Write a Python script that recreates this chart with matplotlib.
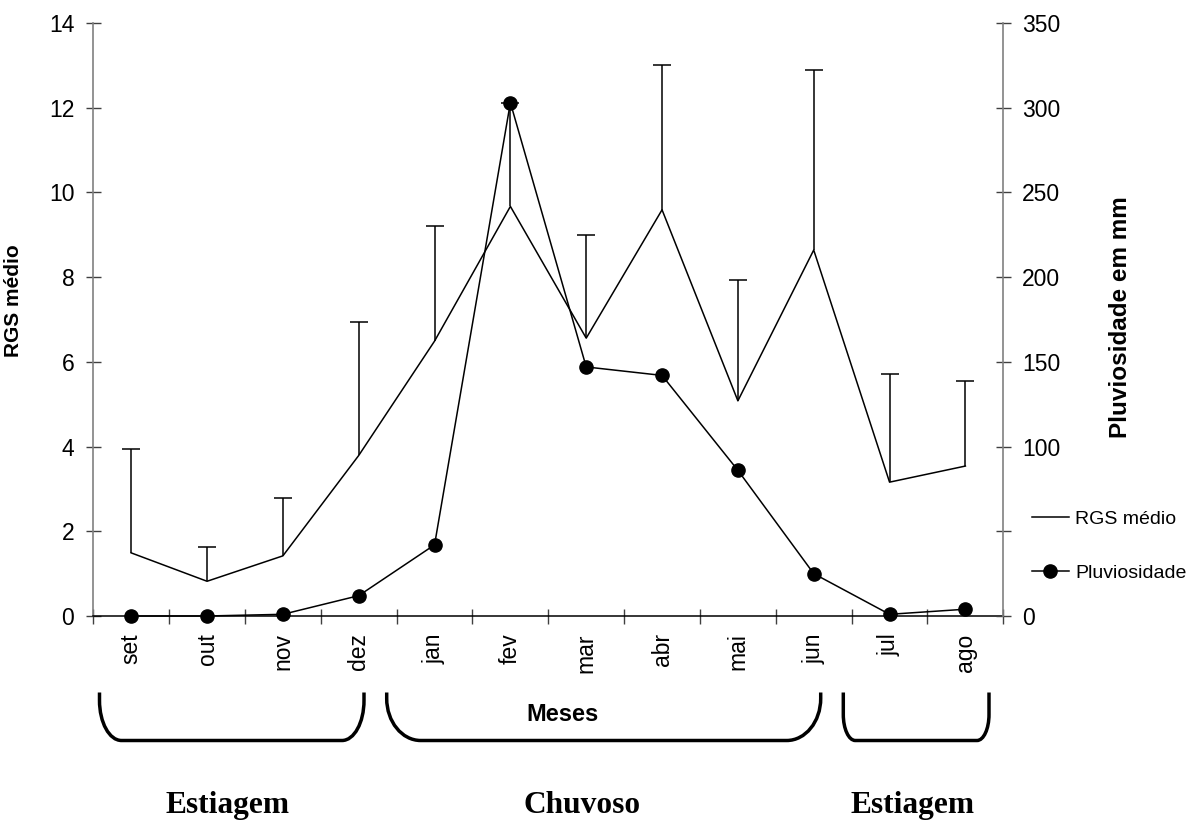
import numpy as np
import matplotlib
matplotlib.use("Agg")
import matplotlib.pyplot as plt
from matplotlib.path import Path
from matplotlib.patches import PathPatch

# ---- data ----
months = ["set", "out", "nov", "dez", "jan", "fev", "mar", "abr", "mai", "jun", "jul", "ago"]
rgs_mean = [1.49, 0.82, 1.42, 3.79, 6.49, 9.67, 6.56, 9.59, 5.08, 8.64, 3.16, 3.54]
rgs_sd = [2.45, 0.81, 1.36, 3.15, 2.72, 2.45, 2.44, 3.41, 2.85, 4.24, 2.55, 2.01]
pluvio = [0, 0, 1, 12, 42, 303, 147, 142, 86, 25, 1, 4]
left_ticks = [0, 2, 4, 6, 8, 10, 12, 14]
right_ticks = [0, 50, 100, 150, 200, 250, 300, 350]
season_labels = ["Estiagem", "Chuvoso", "Estiagem"]

plt.rcParams['font.family'] = ['Liberation Sans', 'DejaVu Sans']

W, H = 1190, 821
fig = plt.figure(figsize=(W / 100, H / 100), dpi=100)
L, R, T, B = 93.3, 1003.3, 23, 616
ax = fig.add_axes([L / W, 1 - B / H, (R - L) / W, (B - T) / H])
ax2 = ax.twinx()

x = np.arange(len(months))
lw = 1.1
cont = ax.errorbar(x, rgs_mean, yerr=[np.zeros(len(x)), rgs_sd], color='black', lw=lw,
                   elinewidth=lw, capsize=6.5, capthick=lw, label='RGS médio', clip_on=False)
# only the upper caps are drawn
cont[1][0].set_visible(False)
ln2, = ax2.plot(x, pluvio, color='black', lw=lw, marker='o', markersize=9.5,
                label='Pluviosidade', clip_on=False, zorder=5)

ax.set_xlim(-0.5, len(months) - 0.5)
ax.set_ylim(0, 14)
ax2.set_ylim(0, 350)
ax.set_yticks(left_ticks)
ax2.set_yticks(right_ticks)

# spines
for s in ['top', 'right']:
    ax.spines[s].set_visible(False)
for s in ['top', 'left', 'bottom']:
    ax2.spines[s].set_visible(False)
ax.spines['left'].set_color('#808080')
ax2.spines['right'].set_color('#808080')
ax.spines['bottom'].set_color('black')
ax.spines['left'].set_linewidth(1.2)
ax2.spines['right'].set_linewidth(1.2)
ax.spines['bottom'].set_linewidth(1.1)

fs_tick = 16.5
ax.tick_params(axis='y', direction='inout', length=10.8, width=1, color='#404040',
               labelsize=fs_tick, pad=8.3)
ax2.tick_params(axis='y', direction='inout', length=10.8, width=1, color='#404040',
                labelsize=fs_tick, pad=8.3)

# x ticks: marks at boundaries, labels at centres
ax.set_xticks(np.arange(-0.5, len(months)), labels=[''] * (len(months) + 1))
ax.set_xticks(x, labels=months, minor=True)
ax.tick_params(axis='x', which='major', direction='inout', length=10.8, width=1, color='#404040')
ax.tick_params(axis='x', which='minor', length=0, labelsize=fs_tick, pad=12.5, labelrotation=90)

# axis labels
ax.set_ylabel('RGS médio', fontsize=15, fontweight='bold')
ax.yaxis.set_label_coords((23.5 - L) / (R - L), (B - 301) / (B - T))
ax2.set_ylabel('Pluviosidade em mm', fontsize=17.5, fontweight='bold', rotation=90)
ax2.yaxis.set_label_coords((1109 - L) / (R - L), (B - 317) / (B - T))
ax.set_xlabel('Meses', fontsize=17, fontweight='bold')
ax.xaxis.label.set_va('center')
ax.xaxis.set_label_coords((562.5 - L) / (R - L), (B - 714) / (B - T))

# legend (white box, as in the original, hides the label of the 50 tick)
leg = ax2.legend([cont[0], ln2], ['RGS médio', 'Pluviosidade'], loc='center left',
                 bbox_to_anchor=(1018 / W, 1 - 546 / H), bbox_transform=fig.transFigure,
                 frameon=True, facecolor='white', edgecolor='none', framealpha=1,
                 fancybox=False, fontsize=14, handlelength=1.9, handletextpad=0.35,
                 labelspacing=1.85, borderpad=0.7, borderaxespad=0)
leg.set_zorder(10)

# braces (overlay in pixel coordinates)
ov = fig.add_axes([0, 0, 1, 1], zorder=-1)
ov.set_xlim(0, W)
ov.set_ylim(H, 0)
ov.axis('off')

def brace(x0, x1, top, bot, rx, ry):
    k = 0.5523
    verts = [(x0, top), (x0, bot - ry),
             (x0, bot - ry + k * ry), (x0 + rx - k * rx, bot), (x0 + rx, bot),
             (x1 - rx, bot),
             (x1 - rx + k * rx, bot), (x1, bot - ry + k * ry), (x1, bot - ry),
             (x1, top)]
    codes = [Path.MOVETO, Path.LINETO,
             Path.CURVE4, Path.CURVE4, Path.CURVE4,
             Path.LINETO,
             Path.CURVE4, Path.CURVE4, Path.CURVE4,
             Path.LINETO]
    ov.add_patch(PathPatch(Path(verts, codes), fill=False, lw=2.5, color='black',
                           capstyle='butt', joinstyle='round'))

brace(99.5, 364, 692.5, 740.5, 22, 40)
brace(386.7, 820.7, 692.5, 740.5, 34, 42)
brace(843.3, 989, 692.5, 740.5, 12, 26)

for lab, cx in zip(season_labels, [227, 582, 912]):
    fig.text(cx / W, 1 - 813 / H, lab, ha='center', va='baseline',
             family=['Liberation Serif', 'DejaVu Serif'], fontweight='bold', fontsize=22.6)

fig.savefig('out.png', dpi=100)
